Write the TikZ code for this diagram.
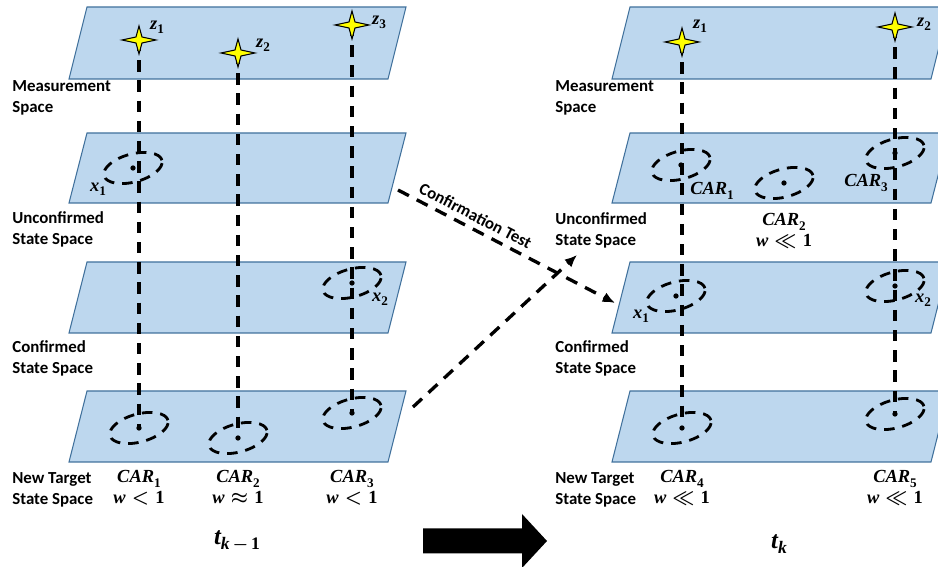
\documentclass[tikz,border=0pt]{standalone}
\usepackage[no-math]{fontspec}
\setmainfont{Carlito}
\newfontfamily\mf{Liberation Serif}
\usetikzlibrary{arrows.meta,shapes.geometric}
\definecolor{planefill}{HTML}{BDD7EE}
\definecolor{planeedge}{HTML}{41719C}
\definecolor{staryellow}{HTML}{FFFF00}
\newcommand\mystar[1]{\filldraw[fill=staryellow,draw=black,line width=0.6pt]
  (#1)+(17,0) -- +(3,3) -- +(0,14) -- +(-3,3) -- +(-17,0) -- +(-3,-3) -- +(0,-14) -- +(3,-3) -- cycle;}
\newcommand\mv[2]{{\itshape #1}\raisebox{-2.4pt}{\fontsize{7.5}{8}\selectfont #2}}
\newcommand\wrel[1]{{\itshape w}$\;#1\;$1}
\begin{document}
\begin{tikzpicture}[x=0.02cm,y=-0.02cm,
  plane/.style={fill=planefill,draw=planeedge,line width=0.6pt},
  vline/.style={line width=1.9pt,dash pattern=on 6.5pt off 5pt},
  blob/.style={ellipse,draw,line width=1.6pt,dash pattern=on 6pt off 4.5pt,
    minimum width=1.2cm,minimum height=0.56cm,inner sep=0,rotate=15},
  lbl/.style={font=\bfseries\fontsize{9.6}{11.9}\selectfont,align=left,anchor=west,inner sep=0},
  mlbl/.style={font=\mf\bfseries\fontsize{10.5}{12}\selectfont\boldmath,inner sep=0},
  tlbl/.style={font=\mf\bfseries\fontsize{14}{16}\selectfont\boldmath,inner sep=0},
  conn/.style={line width=1.9pt,dash pattern=on 7pt off 5pt,-{Latex[length=7pt,width=6pt]}},
  dot/.style={circle,fill=black,inner sep=0,minimum size=3pt}]
\useasboundingbox (0,0) rectangle (938,567);
\clip (0,0) rectangle (938,567);
% planes
\foreach \yt/\yb in {7/79,133/203,262/333,391/462}{
  \draw[plane] (87,\yt) -- (406,\yt) -- (388,\yb) -- (69,\yb) -- cycle;
  \draw[plane] (630,\yt) -- (949,\yt) -- (931,\yb) -- (612,\yb) -- cycle;
}
% star positions
\coordinate (zL1) at (139,40);
\coordinate (zL2) at (238,53);
\coordinate (zL3) at (352,25);
\coordinate (zR1) at (682,42);
\coordinate (zR2) at (895,27);
% ellipses
\node[blob] (xL1) at (133,168) {};
\node[blob] (xL2) at (352,283) {};
\node[blob] (cL1) at (139,428) {};
\node[blob] (cL2) at (238,438) {};
\node[blob] (cL3) at (352,413) {};
\node[blob] (cR1) at (681,165) {};
\node[blob] (cR2) at (784,183) {};
\node[blob] (cR3) at (895,153) {};
\node[blob] (xR1) at (676,296) {};
\node[blob] (xR2) at (895,286) {};
\node[blob] (cR4) at (682,428) {};
\node[blob] (cR5) at (895,414) {};
\foreach \n in {xL1,xL2,cL1,cL2,cL3,cR1,cR2,cR3,xR1,xR2,cR4,cR5}
  \node[dot] at (\n.center) {};
% vertical connectors
\draw[vline] (zL1) -- (cL1.center);
\draw[vline] (zL2) -- (cL2.center);
\draw[vline] (zL3) -- (cL3.center);
\draw[vline] (zR1) -- (cR4.center);
\draw[vline] (zR2) -- (cR5.center);
% stars
\mystar{zL1}\mystar{zL2}\mystar{zL3}\mystar{zR1}\mystar{zR2}
% math labels
\node[mlbl] (lz1) at (157,27) {\mv{z}{1}};
\node[mlbl] (lz2) at (263,45) {\mv{z}{2}};
\node[mlbl] (lz3) at (379,22) {\mv{z}{3}};
\node[mlbl] (lx1) at (98,189) {\mv{x}{1}};
\node[mlbl] (lx2) at (380,299) {\mv{x}{2}};
\node[mlbl] (lc1) at (139,479) {\mv{CAR}{1}};
\node[mlbl] (lw1) at (139,498) {\wrel{<}};
\node[mlbl] (lc2) at (238,479) {\mv{CAR}{2}};
\node[mlbl] (lw2) at (238,498) {\wrel{\approx}};
\node[mlbl] (lc3) at (352,479) {\mv{CAR}{3}};
\node[mlbl] (lw3) at (352,498) {\wrel{<}};
\node[mlbl] (rz1) at (700,26) {\mv{z}{1}};
\node[mlbl] (rz2) at (924,24) {\mv{z}{2}};
\node[mlbl] (rc1) at (712,191) {\mv{CAR}{1}};
\node[mlbl] (rc3) at (866,183) {\mv{CAR}{3}};
\node[mlbl] (rc2) at (784,222) {\mv{CAR}{2}};
\node[mlbl] (rw2) at (784,241) {\wrel{\ll}};
\node[mlbl] (rx1) at (641,316) {\mv{x}{1}};
\node[mlbl] (rx2) at (923,300) {\mv{x}{2}};
\node[mlbl] (rc4) at (682,479) {\mv{CAR}{4}};
\node[mlbl] (rw4) at (682,498) {\wrel{\ll}};
\node[mlbl] (rc5) at (895,479) {\mv{CAR}{5}};
\node[mlbl] (rw5) at (895,498) {\wrel{\ll}};
\node[tlbl] (tk1) at (237,541) {{\itshape t}\raisebox{-3pt}{\fontsize{10}{11}\selectfont\itshape k\,$-$\,\upshape 1}};
\node[tlbl] (tk) at (779,544) {{\itshape t}\raisebox{-3pt}{\fontsize{10}{11}\selectfont\itshape k}};
% space labels
\node[lbl] (lm) at (12,97.5) {Measurement\\Space};
\node[lbl] (lu) at (12,229) {Unconfirmed\\State Space};
\node[lbl] (lcf) at (12,358) {Confirmed\\State Space};
\node[lbl] (ln) at (12,490) {New Target\\State Space};
\node[lbl] (rm) at (555,97.5) {Measurement\\Space};
\node[lbl] (ru) at (555,230) {Unconfirmed\\State Space};
\node[lbl] (rcf) at (555,358) {Confirmed\\State Space};
\node[lbl] (rn) at (555,490) {New Target\\State Space};
% transition arrows
\coordinate (ctA) at (398,190);
\coordinate (ctB) at (615,303);
\coordinate (ntA) at (413,407);
\coordinate (ntB) at (577,255);
\draw[conn] (ctA) -- node[pos=0.33,sloped,above=3pt,inner sep=0,
  font=\bfseries\fontsize{9.6}{11}\selectfont] (ctl) {Confirmation Test} (ctB);
\draw[conn] (ntA) -- (ntB);
% big time arrow
\fill[black] (423,528.5) -- (522,528.5) -- (522,514) -- (547,541) -- (522,568) -- (522,553.5) -- (423,553.5) -- cycle;
\end{tikzpicture}
\end{document}
